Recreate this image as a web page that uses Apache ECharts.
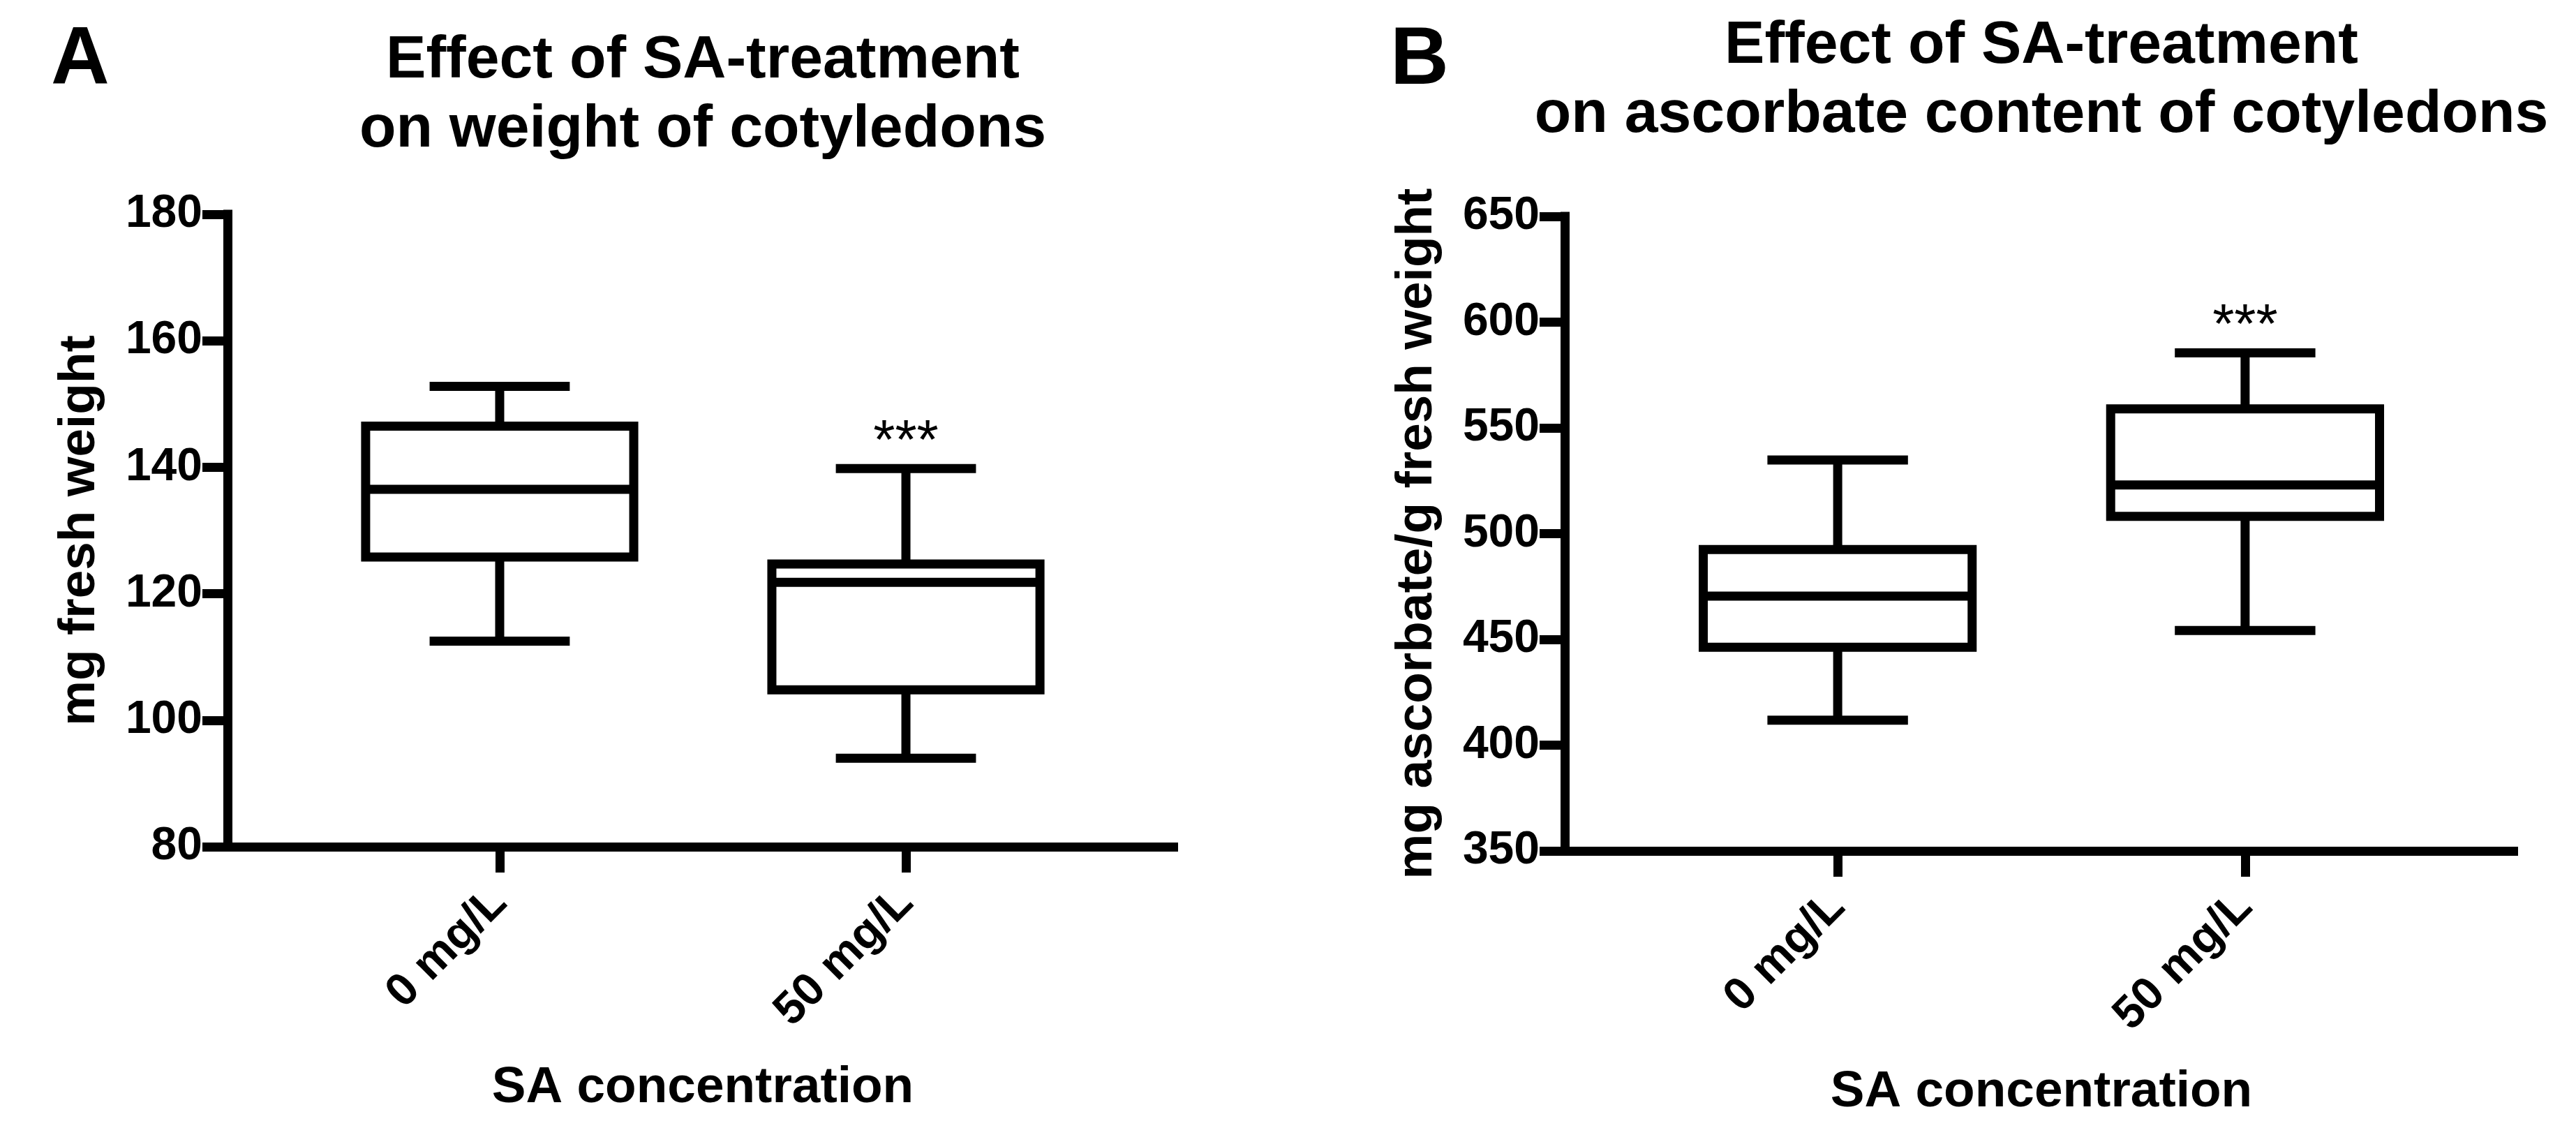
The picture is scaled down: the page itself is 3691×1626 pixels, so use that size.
<!DOCTYPE html>
<html>
<head>
<meta charset="utf-8">
<script src="https://cdn.jsdelivr.net/npm/echarts@6/dist/echarts.min.js"></script>
<style>
html,body{margin:0;padding:0;background:#fff;}
#c{width:3691px;height:1626px;}
</style>
</head>
<body>
<div id="c"></div>
<script>
// ---------- data ----------
const categories = ['0 mg/L', '50 mg/L'];
// each box: [min, Q1, median, Q3, max]
const weightBoxes = [
  [112.5, 125.8, 136.5, 146.5, 152.8],
  [94.0, 104.8, 121.8, 124.7, 139.8]
];
const ascorbateBoxes = [
  [411.8, 446.3, 470.5, 492.5, 534.8],
  [454.2, 508.2, 523.0, 559.0, 585.5]
];
const significance = ['', '***'];
const weightTicks = [80, 100, 120, 140, 160, 180];
const ascorbateTicks = [350, 400, 450, 500, 550, 600, 650];

// ---------- style ----------
const FONT = '"Liberation Sans", Arial, Helvetica, sans-serif';
const LW = 13;
const BOX_W = 0.66;   // box width in category spacing units
const CAP_W = 0.345;  // whisker cap width in category spacing units

const chart = echarts.init(document.getElementById('c'), null, {renderer: 'canvas'});

function renderBox(params, api) {
  const x = api.value(0);
  const mn = api.value(1), q1 = api.value(2), md = api.value(3), q3 = api.value(4), mx = api.value(5);
  const cx = api.coord([x, md])[0];
  const yOf = v => api.coord([x, v])[1];
  const bw = api.size([BOX_W, 0])[0];
  const cw = api.size([CAP_W, 0])[0];
  const st = {stroke: '#000', lineWidth: LW, fill: null};
  const children = [
    {type: 'line', shape: {x1: cx, y1: yOf(q3), x2: cx, y2: yOf(mx)}, style: st},
    {type: 'line', shape: {x1: cx, y1: yOf(q1), x2: cx, y2: yOf(mn)}, style: st},
    {type: 'line', shape: {x1: cx - cw / 2, y1: yOf(mx), x2: cx + cw / 2, y2: yOf(mx)}, style: st},
    {type: 'line', shape: {x1: cx - cw / 2, y1: yOf(mn), x2: cx + cw / 2, y2: yOf(mn)}, style: st},
    {type: 'rect', shape: {x: cx - bw / 2, y: yOf(q3), width: bw, height: yOf(q1) - yOf(q3)},
      style: {fill: '#fff', stroke: '#000', lineWidth: LW, lineJoin: 'miter'}},
    {type: 'line', shape: {x1: cx - bw / 2, y1: yOf(md), x2: cx + bw / 2, y2: yOf(md)}, style: st}
  ];
  const sig = significance[params.dataIndex];
  if (sig) {
    children.push({
      type: 'text',
      style: {x: cx, y: yOf(mx) - 36, text: sig, align: 'center', verticalAlign: 'middle',
        font: 'normal 80px ' + FONT, fill: '#000'}
    });
  }
  return {type: 'group', children: children};
}

function makeX(gridIndex) {
  return {
    gridIndex: gridIndex, type: 'value', min: -0.67, max: 1.67,
    splitLine: {show: false},
    axisLine: {show: true, onZero: false, lineStyle: {color: '#000', width: LW, cap: 'butt'}},
    axisTick: {show: true, customValues: categories.map((c, i) => i), length: 37, lineStyle: {color: '#000', width: LW}},
    axisLabel: {customValues: categories.map((c, i) => i), formatter: v => categories[Math.round(v)],
      rotate: 45, margin: 70, color: '#000', fontSize: 66, fontWeight: 'bold', fontFamily: FONT},
    name: 'SA concentration', nameLocation: 'middle', nameGap: 309,
    nameTextStyle: {color: '#000', fontSize: 73, fontWeight: 'bold', fontFamily: FONT}
  };
}
function makeY(gridIndex, ticks, name) {
  return {
    gridIndex: gridIndex, type: 'value', min: ticks[0], max: ticks[ticks.length - 1], interval: ticks[1] - ticks[0],
    splitLine: {show: false},
    axisLine: {show: true, onZero: false, lineStyle: {color: '#000', width: LW, cap: 'square'}},
    axisTick: {show: true, length: 36, lineStyle: {color: '#000', width: LW}},
    axisLabel: {margin: 36, color: '#000', fontSize: 66, fontWeight: 'bold', fontFamily: FONT},
    name: name, nameLocation: 'middle', nameGap: 175,
    nameTextStyle: {color: '#000', fontSize: 73, fontWeight: 'bold', fontFamily: FONT}
  };
}

const option = {
  backgroundColor: '#fff',
  animation: false,
  grid: [
    {left: 326, top: 307, width: 1362, height: 906},
    {left: 2242, top: 310, width: 1366, height: 909}
  ],
  xAxis: [makeX(0), makeX(1)],
  yAxis: [makeY(0, weightTicks, 'mg fresh weight'), makeY(1, ascorbateTicks, 'mg ascorbate/g fresh weight')],
  series: [
    {type: 'custom', xAxisIndex: 0, yAxisIndex: 0, renderItem: renderBox,
      encode: {x: 0, y: [1, 2, 3, 4, 5]}, data: weightBoxes.map((b, i) => [i].concat(b))},
    {type: 'custom', xAxisIndex: 1, yAxisIndex: 1, renderItem: renderBox,
      encode: {x: 0, y: [1, 2, 3, 4, 5]}, data: ascorbateBoxes.map((b, i) => [i].concat(b))}
  ],
  graphic: [
    {type: 'text', x: 115, y: 88, style: {text: 'A', font: 'bold 116px ' + FONT, fill: '#000', align: 'center', verticalAlign: 'middle'}},
    {type: 'text', x: 2034, y: 88, style: {text: 'B', font: 'bold 116px ' + FONT, fill: '#000', align: 'center', verticalAlign: 'middle'}},
    {type: 'text', x: 1007, y: 137, style: {text: 'Effect of SA-treatment\non weight of cotyledons', font: 'bold 86px ' + FONT,
      lineHeight: 99, fill: '#000', align: 'center', verticalAlign: 'middle'}},
    {type: 'text', x: 2925, y: 116, style: {text: 'Effect of SA-treatment\non ascorbate content of cotyledons', font: 'bold 86px ' + FONT,
      lineHeight: 99, fill: '#000', align: 'center', verticalAlign: 'middle'}}
  ]
};
chart.setOption(option);
</script>
</body>
</html>
